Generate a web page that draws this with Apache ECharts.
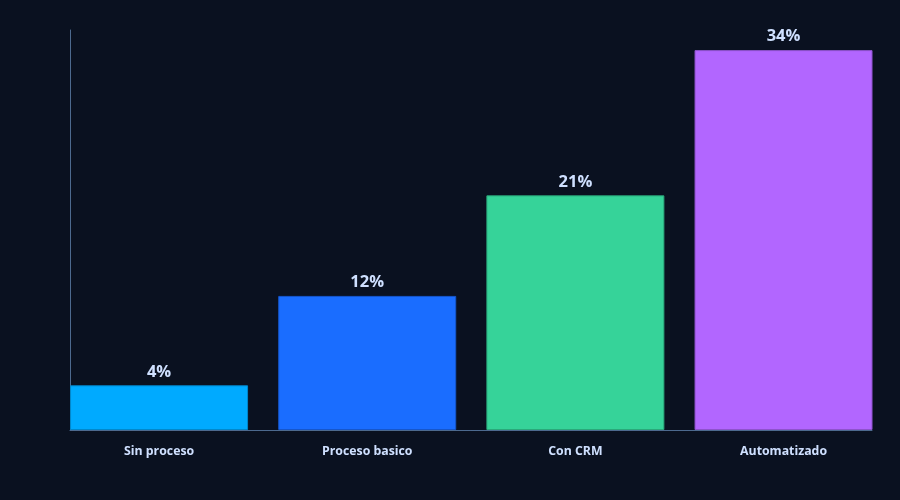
<!DOCTYPE html>
<html>
<head>
<meta charset="utf-8">
<script src="https://cdn.jsdelivr.net/npm/echarts@6/dist/echarts.min.js"></script>
<style>
  html, body { margin: 0; padding: 0; background: #0a1120; }
  #chart { width: 900px; height: 500px; }
</style>
</head>
<body>
<div id="chart"></div>
<script>
const categories = ["Sin proceso", "Proceso basico", "Con CRM", "Automatizado"];
const values = [4, 12, 21, 34];
const barColors = ["#00aaff", "#1a6dff", "#36d399", "#b266ff"];
const barBorders = ["#0088cc", "#1556cc", "#2aa97a", "#8e52cc"];

const yMax = 35.8;
const labelColor = "#cfe0ff";
const axisColor = "#4d6a8f";

const chart = echarts.init(document.getElementById("chart"));

const options = {
  backgroundColor: "#0a1120",
  animation: false,
  grid: [
    // axis frame
    { left: 70, right: 28, top: 30, bottom: 70 },
    // bars (bands reach a little past the frame so bars meet the axis ends)
    { left: 55, right: 12.4, top: 30, bottom: 70 },
  ],
  xAxis: [
    {
      gridIndex: 0,
      type: "category",
      data: categories,
      axisLine: { show: true, lineStyle: { color: axisColor, width: 1 } },
      axisTick: { show: false },
      axisLabel: { show: false },
      splitLine: { show: false },
    },
    {
      gridIndex: 1,
      type: "category",
      data: categories,
      axisLine: { show: false },
      axisTick: { show: false },
      axisLabel: {
        color: labelColor,
        fontFamily: "Open Sans",
        fontWeight: "bold",
        fontSize: 12.3,
        margin: 15,
      },
    },
  ],
  yAxis: [
    {
      gridIndex: 0,
      type: "value",
      min: 0,
      max: yMax,
      axisLine: { show: true, lineStyle: { color: axisColor, width: 1 } },
      axisTick: { show: false },
      axisLabel: { show: false },
      splitLine: { show: false },
    },
    {
      gridIndex: 1,
      type: "value",
      min: 0,
      max: yMax,
      show: false,
    },
  ],
  series: [
    {
      type: "bar",
      xAxisIndex: 1,
      yAxisIndex: 1,
      barWidth: 178,
      data: values.map((v, i) => ({
        value: v,
        itemStyle: {
          color: barColors[i],
          borderColor: barBorders[i],
          borderWidth: 1,
        },
      })),
      label: {
        show: true,
        position: "top",
        distance: 5,
        formatter: "{c}%",
        color: labelColor,
        fontFamily: "Open Sans",
        fontWeight: "bold",
        fontSize: 16.5,
      },
    },
  ],
};

chart.setOption(options);
</script>
</body>
</html>
